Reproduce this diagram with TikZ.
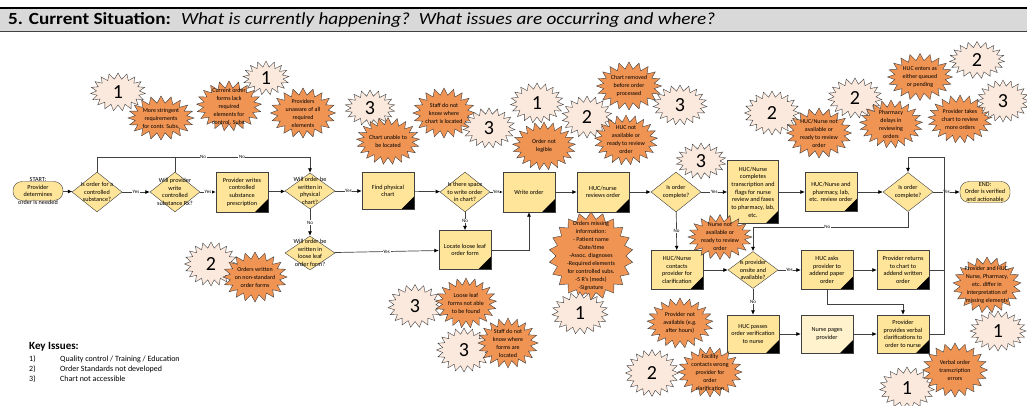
\documentclass[tikz,border=0pt]{standalone}
\usepackage{fontspec}
\setmainfont{Carlito}
\usepackage{xcolor}
\usetikzlibrary{shapes.geometric, shapes.symbols, arrows.meta}

\definecolor{boxfill}{RGB}{255,229,153}
\definecolor{palefill}{RGB}{255,242,204}
\definecolor{issuefill}{RGB}{240,148,84}
\definecolor{numfill}{RGB}{251,233,221}
\definecolor{headgray}{RGB}{217,217,217}
\definecolor{linecol}{RGB}{64,64,64}

\begin{document}
\begin{tikzpicture}[x=1pt, y=-1pt,
  flow/.style={font=\fontsize{6.2}{7.7}\selectfont, align=center},
  small/.style={font=\fontsize{6}{8}\selectfont, align=center},
  txt/.style={label={[flow]center:{#1}}},
  itxt/.style={label={[small]center:{#1}}},
  proc/.style={draw=linecol, fill=boxfill, minimum width=52pt, minimum height=40pt,
    inner sep=1pt, flow,
    path picture={\fill[black] (path picture bounding box.south east) -- ++(-13pt,0pt) -- ++(13pt,13pt) -- cycle;}},
  dec/.style={diamond, draw=linecol, fill=boxfill, minimum width=50pt, minimum height=40pt, inner sep=0pt},
  term/.style={draw=linecol, fill=boxfill, rounded corners=9pt, minimum width=50pt, minimum height=19pt, inner sep=0pt},
  burst/.style={starburst, starburst points=#1, random starburst=0, draw=linecol, inner sep=0pt},
  numb/.style={burst=#1, starburst point height=6pt, fill=numfill, font=\fontsize{20}{20}\selectfont},
  issue/.style={burst=#1, starburst point height=7pt, fill=issuefill},
  conn/.style={draw=linecol, line width=0.7pt, -{Latex[length=4.5pt,width=4pt,color=black]}},
  plain/.style={draw=linecol, line width=0.7pt},
  lab/.style={fill=white, inner sep=0.6pt, font=\fontsize{5}{5}\selectfont}
]
\useasboundingbox (0,0) rectangle (1027,406);

\fill[headgray] (0,8) rectangle (1027,31);
\draw[line width=1.2pt] (0,8) -- (1027,8);
\draw[line width=0.8pt, linecol] (0,31) -- (1027,31);
\node[anchor=west, font=\fontsize{17}{17}\selectfont, inner sep=0pt] (title) at (8,20)
  {\scalebox{1.13}[1]{\textbf{5. Current Situation:}\hspace{9pt}\textit{What is currently happening?\ \ What issues are occurring and where?}}};

\node[anchor=west, font=\bfseries\fontsize{11}{11}\selectfont, inner sep=0pt] (keyhead) at (29,347) {Key Issues:};
\node[anchor=north west, font=\fontsize{8}{10}\selectfont, inner sep=0pt] (keylist) at (29,354)
  {\begin{tabular}{@{}p{19pt}l@{}}
   1) & Quality control / Training / Education\\
   2) & Order Standards not developed\\
   3) & Chart not accessible
   \end{tabular}};

% flow
\node[term, txt={START:\\Provider\\determines\\order is needed}] (start) at (38,191) {};
\node[dec, txt={Is order for a\\controlled\\substance?}] (d1) at (97,192) {};
\node[dec, txt={Will provider\\write\\controlled\\substance Rx?}] (d2) at (175,192) {};
\node[proc] (b1) at (242,192) {Provider writes\\controlled\\substance\\prescription};
\node[dec, minimum height=36pt, txt={Will order be\\written in\\physical\\chart?}] (d3) at (310,191) {};
\node[proc, minimum height=37pt] (b2) at (388,191) {Find physical\\chart};
\node[dec, txt={Is there space\\to write order\\in chart?}] (d4) at (465,192) {};
\node[proc] (b3) at (529,192) {Write order};
\node[proc] (b4) at (603,192) {HUC/nurse\\reviews order};
\node[dec, txt={Is order\\complete?}] (d5) at (676,192) {};
\node[proc, minimum width=51pt, minimum height=63pt] (b5) at (753,192)
  {HUC/Nurse\\completes\\transcription and\\flags for nurse\\review and faxes\\to pharmacy, lab,\\etc.};
\node[proc, minimum height=39pt] (b6) at (831,192) {HUC/Nurse and\\pharmacy, lab,\\etc. review order};
\node[dec, minimum height=39pt, txt={Is order\\complete?}] (d6) at (908,192) {};
\node[term, minimum height=21pt, txt={END:\\Order is verified\\and actionable}] (end) at (985,192) {};

\node[dec, minimum height=34pt, txt={Will order be\\written in\\loose leaf\\order form?}] (d7) at (310,253) {};
\node[proc, minimum height=39pt] (b7) at (465,250) {Locate loose leaf\\order form};

\node[proc, minimum height=39pt] (b8) at (677,270) {HUC/Nurse\\contacts\\provider for\\clarification};
\node[dec, minimum height=37pt, txt={Is provider\\onsite and\\available?}] (d8) at (753,270) {};
\node[proc, minimum height=39pt] (b9) at (827,270) {HUC asks\\provider to\\addend paper\\order};
\node[proc, minimum height=39pt] (b10) at (903,270) {Provider returns\\to chart to\\addend written\\order};

\node[proc, minimum height=38pt] (b11) at (753,334) {HUC passes\\order verification\\to nurse};
\node[proc, minimum height=38pt, fill=palefill] (b12) at (827,334) {Nurse pages\\provider};
\node[proc, minimum height=38pt] (b13) at (903,334) {Provider\\provides verbal\\clarifications to\\order to nurse};

\coordinate (loopa) at (310,157);
\coordinate (loopb) at (944,157);
\coordinate (loopc) at (753,227);

\draw[conn] (start) -- (d1);
\draw[conn] (d1) -- node[lab] {Yes} (d2);
\draw[conn] (d2) -- node[lab] {Yes} (b1);
\draw[conn] (b1) -- (d3);
\draw[conn] (d3) -- node[lab] {Yes} (b2);
\draw[conn] (b2) -- (d4);
\draw[conn] (d4) -- node[lab] {Yes} (b3);
\draw[conn] (b3) -- (b4);
\draw[conn] (b4) -- (d5);
\draw[conn] (d5) -- node[lab] {Yes} (b5);
\draw[conn] (b5) -- (b6);
\draw[conn] (b6) -- (d6);
\draw[conn] (d6) -- node[lab] {Yes} (end);

\draw[plain] (d1.north) |- (d2.north |- loopa);
\draw[conn] (d2.north) |- node[lab, pos=0.604] {No} node[lab, pos=0.748] {No} (loopa) -- (d3.north);
\draw[conn] (d3) -- node[lab] {No} (d7);
\draw[conn] (d7) -- node[lab] {Yes} (b7);
\draw[conn] (d4) -- node[lab] {No} (b7);
\draw[conn] (b7.east) -| (b3.south);

\draw[conn] (d5) -- node[lab] {No} (b8);
\draw[conn] (b8) -- (d8);
\draw[conn] (d8) -- node[lab] {Yes} (b9);
\draw[conn] (b9) -- (b10);
\draw[conn] (d8) -- node[lab] {No} (b11);
\draw[conn] (b11) -- (b12);
\draw[conn] (b12) -- (b13);
\draw[conn] (b9.south) -- ++(0,15) -| (b13.north);
\draw[conn] (d6.south) |- node[lab, pos=0.76] {No} (loopc) -- (d8.north);
\draw[conn] (b10.east) -| (loopb) -| (d6.north);
\draw[plain] (b13.east) -| (b10.east -| loopb);

% issues
\node[numb=19, minimum width=55pt, minimum height=38pt] (n1) at (118,92) {1};
\node[numb=17, minimum width=46pt, minimum height=34pt] (n2) at (266,78) {1};
\node[numb=18, minimum width=50pt, minimum height=36pt] (n3) at (370,108) {3};
\node[numb=19, minimum width=53pt, minimum height=40pt] (n5) at (537,103) {1};
\node[numb=18, minimum width=50pt, minimum height=42pt] (n6) at (587,117) {2};
\node[numb=19, minimum width=54pt, minimum height=40pt] (n7) at (680,105) {3};
\node[numb=18, minimum width=50pt, minimum height=36pt] (n8) at (701,161) {3};
\node[numb=20, minimum width=55pt, minimum height=44pt] (n9) at (772,113) {2};
\node[numb=19, minimum width=54pt, minimum height=40pt] (n10) at (855,98) {2};
\node[numb=19, minimum width=55pt, minimum height=37pt] (n11) at (977,60) {2};
\node[numb=20, minimum width=53pt, minimum height=44pt] (n13) at (211,264) {2};
\node[numb=19, minimum width=54pt, minimum height=43pt] (n14) at (415,306) {3};
\node[numb=20, minimum width=55pt, minimum height=44pt] (n15) at (464,350) {3};
\node[numb=20, minimum width=53pt, minimum height=47pt] (n17) at (652,373) {2};
\node[numb=20, minimum width=56pt, minimum height=40pt] (n18) at (998,331) {1};
\node[numb=19, minimum width=55pt, minimum height=42pt] (n19) at (907,388) {1};

\node[issue=20, minimum width=66pt, minimum height=44pt, itxt={More stringent\\requirements\\for contr. Subs.}] (i1) at (161,118) {};
\node[issue=21, minimum width=65pt, minimum height=50pt, itxt={Current order\\forms lack\\required\\elements for\\control. Subs.}] (i2) at (229,106) {};
\node[issue=20, minimum width=65pt, minimum height=50pt, itxt={Providers\\unaware of all\\required\\elements}] (i3) at (303,113) {};
\node[issue=21, minimum width=63pt, minimum height=47pt, itxt={Chart unable to\\be located}] (i4) at (388,141) {};
\node[issue=20, minimum width=62pt, minimum height=50pt, itxt={Staff do not\\know where\\chart is located}] (i5) at (444,113) {};
\node[issue=21, minimum width=63pt, minimum height=48pt, itxt={Order not\\legible}] (i6) at (544,146) {};
\node[issue=20, minimum width=65pt, minimum height=48pt, itxt={Chart removed\\before order\\processed}] (i7) at (629,86) {};
\node[issue=21, minimum width=63pt, minimum height=50pt, itxt={HUC not\\available or\\ready to review\\order}] (i8) at (626,140) {};
\node[issue=20, minimum width=65pt, minimum height=50pt, itxt={HUC/Nurse not\\available or\\ready to review\\order}] (i9) at (819,133) {};
\node[issue=21, minimum width=63pt, minimum height=48pt, itxt={Pharmacy\\delays in\\reviewing\\orders}] (i10) at (891,124) {};
\node[issue=20, minimum width=65pt, minimum height=47pt, itxt={HUC enters as\\either queued\\or pending}] (i11) at (920,77) {};
\node[issue=21, minimum width=64pt, minimum height=48pt, itxt={Provider takes\\chart to review\\more orders}] (i12) at (960,119) {};
\node[issue=20, minimum width=64pt, minimum height=50pt, itxt={Orders written\\on non-standard\\order forms}] (i13) at (255,277) {};
\node[issue=22, minimum width=84pt, minimum height=88pt, itxt={Orders missing\\information:\\- Patient name\\-Date/time\\-Assoc. diagnoses\\-Required elements\\for controlled subs.\\-5 R's (meds)\\-Signature}] (i14) at (591,256) {};
\node[issue=20, minimum width=64pt, minimum height=45pt, itxt={Nurse not\\available or\\ready to review\\order}] (i15) at (720,237) {};
\node[issue=21, minimum width=66pt, minimum height=50pt, itxt={Provider not\\available (e.g.\\after hours)}] (i16) at (680,323) {};
\node[issue=20, minimum width=64pt, minimum height=50pt, itxt={Facility\\contacts wrong\\provider for\\order\\clarification}] (i17) at (710,372) {};
\node[issue=21, minimum width=68pt, minimum height=56pt, itxt={Provider and HUC,\\Nurse, Pharmacy,\\etc. differ in\\interpretation of\\missing elements}] (i18) at (987,285) {};
\node[issue=20, minimum width=65pt, minimum height=54pt, itxt={Verbal order\\transcription\\errors}] (i19) at (955,370) {};
\node[issue=21, minimum width=61pt, minimum height=50pt, itxt={Loose leaf\\forms not able\\to be found}] (i20) at (466,303) {};
\node[issue=20, minimum width=60pt, minimum height=50pt, itxt={Staff do not\\know where\\forms are\\located}] (i21) at (508,343) {};

\node[numb=19, minimum width=52pt, minimum height=40pt] (n4) at (489,128) {3};
\node[numb=20, minimum width=52pt, minimum height=42pt] (n12) at (1003,101) {3};
\node[numb=19, minimum width=56pt, minimum height=42pt] (n16) at (580,313) {1};

\end{tikzpicture}
\end{document}
